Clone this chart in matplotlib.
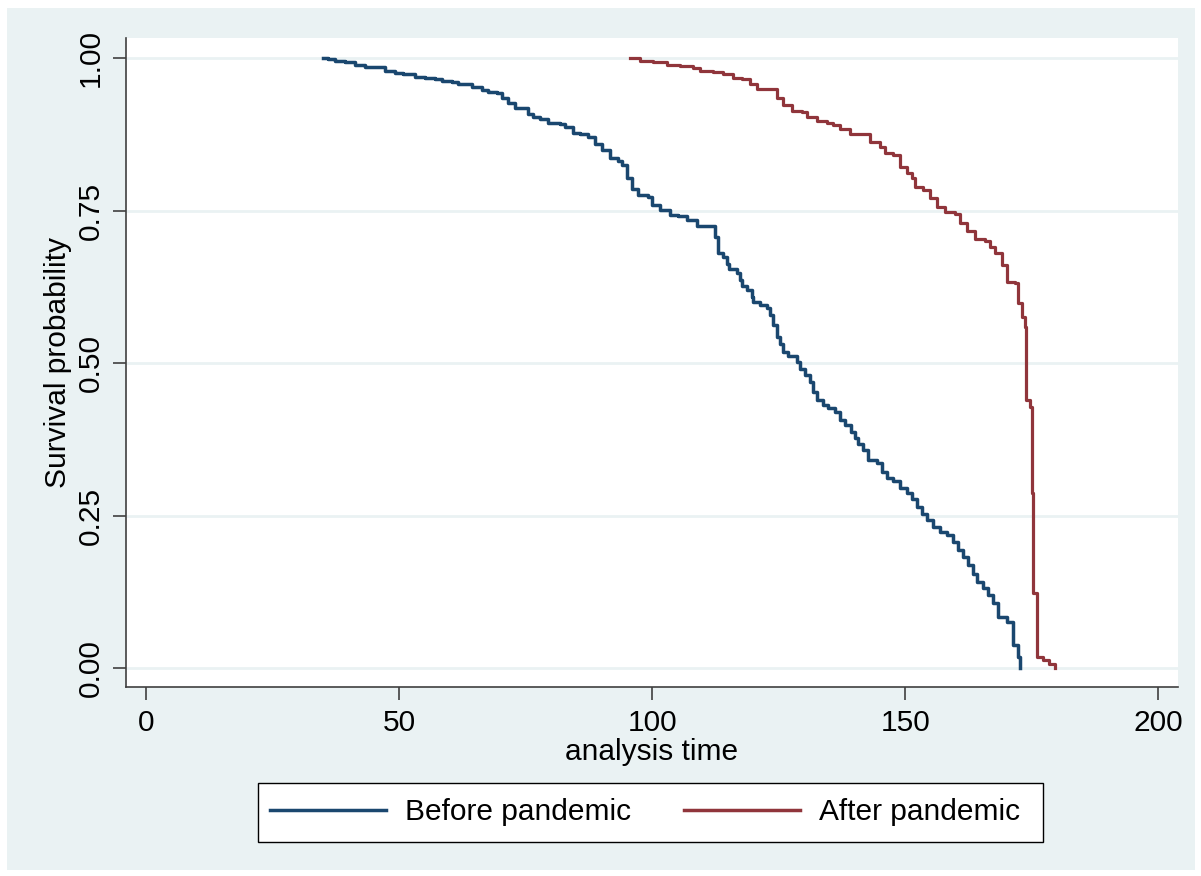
import matplotlib
matplotlib.use('Agg')
import matplotlib.pyplot as plt
from matplotlib.patches import Rectangle

plt.rcParams['font.family'] = ['Liberation Sans', 'DejaVu Sans']

# Kaplan-Meier estimates (time, survival after the step)
before_time = [35.0, 36.0, 37.4, 39.3, 41.3, 43.3, 45.3, 47.2, 49.2, 50.8,
               53.2, 55.1, 57.1, 58.5, 60.5, 61.7, 64.4, 66.4, 67.6, 69.4,
               70.4, 71.5, 72.9, 75.5, 76.5, 77.9, 79.4, 81.8, 82.8, 84.4,
               85.8, 87.4, 88.7, 90.1, 91.7, 93.3, 94.1, 95.1, 96.0, 97.2,
               99.2, 100.0, 101.6, 103.6, 105.1, 106.9, 108.9, 112.5, 113.0, 114.0,
               114.8, 115.1, 116.8, 117.4, 117.8, 118.8, 119.8, 120.0, 121.3, 122.7,
               123.3, 123.9, 124.7, 125.3, 125.9, 126.9, 128.7, 129.2, 130.2, 131.2,
               131.8, 132.6, 133.8, 134.8, 136.2, 137.2, 138.1, 139.3, 140.1, 140.7,
               141.7, 142.7, 144.5, 145.5, 146.4, 147.6, 149.0, 150.4, 151.4, 152.4,
               153.4, 154.3, 155.5, 156.9, 158.3, 159.5, 160.5, 161.5, 162.5, 163.4,
               164.2, 165.4, 166.4, 167.4, 168.4, 170.2, 171.3, 172.3, 172.7]
before_surv = [1.000, 0.998, 0.996, 0.994, 0.989, 0.986, 0.985, 0.979, 0.975, 0.974,
               0.969, 0.967, 0.965, 0.962, 0.961, 0.958, 0.953, 0.947, 0.944, 0.943,
               0.934, 0.926, 0.919, 0.909, 0.904, 0.901, 0.894, 0.892, 0.887, 0.878,
               0.875, 0.871, 0.860, 0.849, 0.836, 0.832, 0.825, 0.803, 0.786, 0.775,
               0.772, 0.759, 0.751, 0.743, 0.741, 0.734, 0.725, 0.707, 0.680, 0.674,
               0.663, 0.654, 0.648, 0.636, 0.626, 0.620, 0.609, 0.601, 0.595, 0.590,
               0.579, 0.562, 0.543, 0.532, 0.519, 0.511, 0.502, 0.491, 0.480, 0.469,
               0.453, 0.439, 0.431, 0.426, 0.420, 0.407, 0.398, 0.387, 0.377, 0.368,
               0.357, 0.341, 0.336, 0.322, 0.311, 0.306, 0.296, 0.287, 0.278, 0.264,
               0.253, 0.243, 0.232, 0.223, 0.218, 0.207, 0.193, 0.182, 0.169, 0.155,
               0.141, 0.131, 0.120, 0.106, 0.084, 0.076, 0.038, 0.019, 0.000]

after_time = [95.7, 97.6, 100.2, 103.0, 105.5, 108.1, 109.5, 112.1, 114.0, 116.0,
              117.8, 119.4, 120.8, 124.7, 125.9, 127.7, 129.6, 130.6, 132.6, 134.6,
              135.8, 137.2, 139.1, 141.7, 143.1, 145.1, 146.0, 147.6, 149.0, 150.4,
              151.4, 152.0, 153.6, 154.9, 156.3, 157.9, 159.9, 160.9, 162.3, 163.8,
              165.8, 166.8, 167.8, 169.2, 170.2, 171.7, 172.3, 173.1, 173.7, 173.9,
              174.7, 175.1, 175.3, 176.1, 177.3, 178.5, 179.6]
after_surv = [1.000, 0.996, 0.994, 0.989, 0.987, 0.983, 0.979, 0.978, 0.974, 0.967,
              0.965, 0.958, 0.949, 0.934, 0.923, 0.914, 0.912, 0.904, 0.897, 0.893,
              0.890, 0.883, 0.876, 0.875, 0.863, 0.854, 0.844, 0.841, 0.822, 0.811,
              0.803, 0.789, 0.784, 0.770, 0.756, 0.747, 0.744, 0.729, 0.717, 0.704,
              0.700, 0.691, 0.680, 0.661, 0.633, 0.631, 0.598, 0.576, 0.560, 0.439,
              0.428, 0.287, 0.123, 0.018, 0.013, 0.007, 0.000]

x_ticks = [0, 50, 100, 150, 200]
y_ticks = [0.0, 0.25, 0.5, 0.75, 1.0]

bg = '#EAF2F3'
navy = '#1A476F'
maroon = '#90353B'
fs = 21.5

fig = plt.figure(figsize=(12.01, 8.76), dpi=100, facecolor='white')
fig.patches.append(Rectangle((7 / 1201, 6 / 876), 1188 / 1201, 862 / 876,
                             transform=fig.transFigure, facecolor=bg,
                             edgecolor='none', zorder=-10))
# legend frame
fig.patches.append(Rectangle((258 / 1201, 1 - 842 / 876), 785 / 1201, 59 / 876,
                             transform=fig.transFigure, facecolor='white',
                             edgecolor='black', lw=1.0, zorder=-5))

ax = fig.add_axes([126 / 1201, 1 - 687 / 876, 1052 / 1201, 649 / 876])
ax.set_facecolor('white')

for y in y_ticks:
    ax.axhline(y, color=bg, lw=2, zorder=0)

ax.plot(before_time, before_surv, drawstyle='steps-post', color=navy, lw=2.5,
        label='Before pandemic')
ax.plot(after_time, after_surv, drawstyle='steps-post', color=maroon, lw=2.3,
        label='After pandemic')

ax.set_xlim(-3.95, 203.9)
ax.set_ylim(-0.031, 1.033)

for s in ['top', 'right']:
    ax.spines[s].set_visible(False)
for s in ['left', 'bottom']:
    ax.spines[s].set_color('#404040')
    ax.spines[s].set_linewidth(1.2)

ax.set_xticks(x_ticks)
ax.set_xticklabels([str(v) for v in x_ticks])
ax.set_yticks(y_ticks)
ax.set_yticklabels(['%.2f' % v for v in y_ticks], rotation=90, va='center')
ax.tick_params(axis='both', direction='out', length=9.5, width=1.2,
               color='#404040', labelsize=fs, pad=6)

ax.set_xlabel('analysis time', fontsize=fs, labelpad=1)
ax.set_ylabel('Survival probability', fontsize=fs, labelpad=3)

leg = ax.legend(loc='center', bbox_to_anchor=(645 / 1201, 1 - 812.5 / 876),
                bbox_transform=fig.transFigure, ncol=2, fontsize=fs,
                frameon=False, handlelength=3.9, handletextpad=0.65,
                columnspacing=1.75, borderpad=0)
for line in leg.get_lines():
    line.set_linewidth(2.5)

fig.savefig('out.png', dpi=100, facecolor=fig.get_facecolor())
